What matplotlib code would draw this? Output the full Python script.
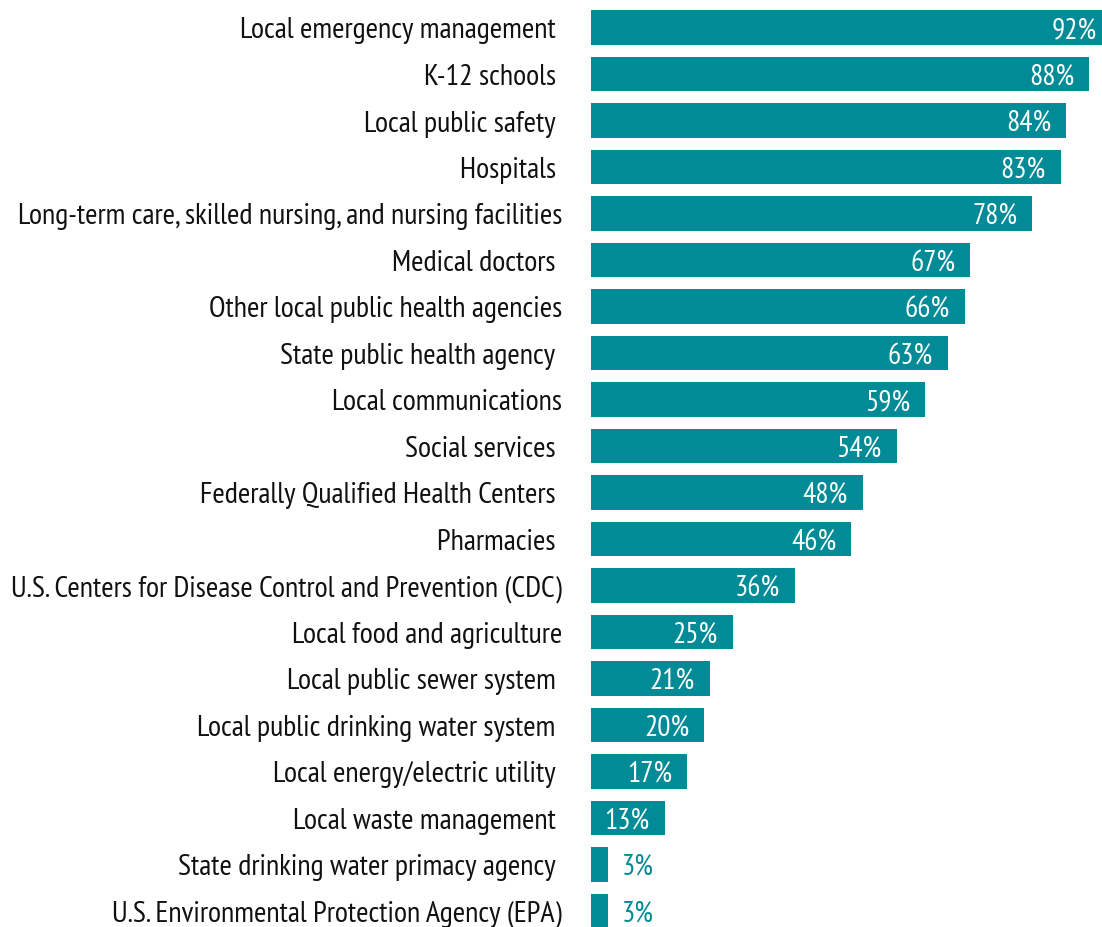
import matplotlib
matplotlib.use("Agg")
import matplotlib.pyplot as plt
from matplotlib import font_manager as fm

categories = [
    "Local emergency management ",
    "K-12 schools ",
    "Local public safety ",
    "Hospitals ",
    "Long-term care, skilled nursing, and nursing facilities",
    "Medical doctors ",
    "Other local public health agencies",
    "State public health agency ",
    "Local communications",
    "Social services ",
    "Federally Qualified Health Centers ",
    "Pharmacies ",
    "U.S. Centers for Disease Control and Prevention (CDC)",
    "Local food and agriculture",
    "Local public sewer system ",
    "Local public drinking water system ",
    "Local energy/electric utility ",
    "Local waste management ",
    "State drinking water primacy agency ",
    "U.S. Environmental Protection Agency (EPA)",
]
values = [92, 88, 84, 83, 78, 67, 66, 63, 59, 54, 48, 46, 36, 25, 21, 20, 17, 13, 3, 3]

names = {f.name for f in fm.fontManager.ttflist}
family = "DejaVu Sans"
for cand in ["PT Sans Narrow", "Fira Sans Condensed", "Asap Condensed",
             "Barlow Semi Condensed", "Archivo Narrow", "Encode Sans Condensed"]:
    if cand in names:
        family = cand
        break

TEAL = "#008B96"
W, H, DPI = 1102, 928, 100
fig = plt.figure(figsize=(W / DPI, H / DPI), dpi=DPI)
left_px = 591
ax = fig.add_axes([left_px / W, 0, 1 - left_px / W, 1])

px_per_pct = 5.66
row_px = 46.5
first_center = 28.5
n = len(categories)
ax.set_xlim(0, (W - left_px) / px_per_pct)
ax.set_ylim(n - 1 + (H - (first_center + row_px * (n - 1))) / row_px, -first_center / row_px)

ys = list(range(n))
ax.barh(ys, values, height=0.74, color=TEAL)

base = 20
cat_texts = []
val_texts = []
for y, v, lab in zip(ys, values, categories):
    t = ax.annotate(lab, xy=(0, y), xytext=(-29, -2.5), textcoords="offset pixels",
                    ha="right", va="center", fontsize=base, family=family,
                    color="#111111", annotation_clip=False)
    cat_texts.append(t)
    if v >= 10:
        t2 = ax.annotate(f"{v}%", xy=(v, y), xytext=(-15, -2), textcoords="offset pixels",
                         ha="right", va="center", fontsize=base, family=family,
                         color="white", annotation_clip=False)
    else:
        t2 = ax.annotate(f"{v}%", xy=(v, y), xytext=(14, -2), textcoords="offset pixels",
                         ha="left", va="center", fontsize=base, family=family,
                         color=TEAL, annotation_clip=False)
    val_texts.append(t2)

ax.axis("off")
fig.canvas.draw()
r = fig.canvas.get_renderer()
w_long = cat_texts[4].get_window_extent(r).width
scale = 546.0 / w_long
w_val = val_texts[1].get_window_extent(r).width
vscale = 45.0 / w_val
for t in cat_texts:
    t.set_fontsize(base * scale)
for t in val_texts:
    t.set_fontsize(base * vscale)

fig.savefig("out.png", dpi=DPI)
